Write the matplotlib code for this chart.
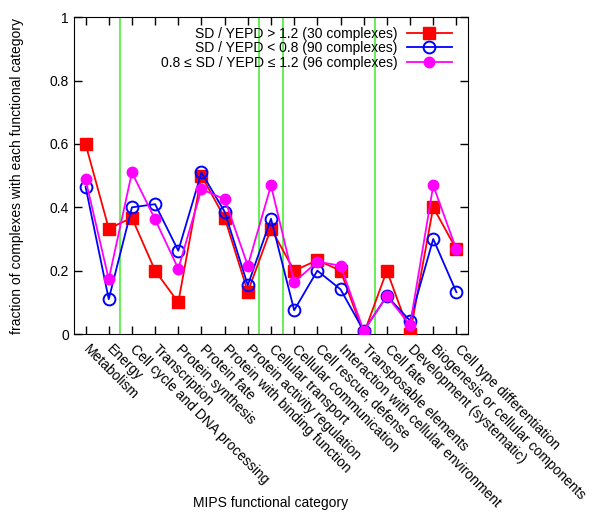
import numpy as np
import matplotlib
matplotlib.use("Agg")
import matplotlib.pyplot as plt
from matplotlib.transforms import ScaledTranslation

plt.rcParams['font.family'] = ['Liberation Sans', 'DejaVu Sans']

# MIPS categories along the x axis
categories = ["Metabolism", "Energy", "Cell cycle and DNA processing", "Transcription",
              "Protein synthesis", "Protein fate", "Protein with binding function",
              "Protein activity regulation", "Cellular transport", "Cellular communication",
              "Cell rescue, defense", "Interaction with cellular environment",
              "Transposable elements", "Cell fate", "Development (systematic)",
              "Biogenesis or cellular components", "Cell type differentiation"]

# fraction of complexes per category for each group
high = [0.6, 0.333, 0.367, 0.2, 0.1, 0.5, 0.367, 0.133, 0.333, 0.2,
        0.233, 0.2, 0.0, 0.2, 0.0, 0.4, 0.267]
low = [0.465, 0.11, 0.4, 0.41, 0.263, 0.51, 0.386, 0.154, 0.364, 0.075,
       0.2, 0.141, 0.01, 0.12, 0.042, 0.3, 0.132]
mid = [0.488, 0.173, 0.51, 0.362, 0.206, 0.457, 0.426, 0.216, 0.469, 0.164,
       0.228, 0.216, 0.01, 0.12, 0.028, 0.469, 0.267]

labels = ["SD / YEPD > 1.2 (30 complexes)",
          "SD / YEPD < 0.8 (90 complexes)",
          "0.8 \u2264 SD / YEPD \u2264 1.2 (96 complexes)"]

# green separators between category groups
separators = [2.5, 8.5, 9.5, 13.5]

x = np.arange(1, len(categories) + 1)

fig = plt.figure(figsize=(6, 5.25), dpi=100)
ax = fig.add_axes([0.1233, 0.3638, 0.6567, 0.6032])

for s in separators:
    ax.axvline(s, color='#66ee55', lw=1.4, zorder=1)

ax.plot(x, high, color='red', lw=1.3, marker='s', ms=8.5, mfc='red', mec='red',
        label=labels[0], zorder=3)
ax.plot(x, low, color='blue', lw=1.3, marker='o', ms=8.5, mfc='none', mec='blue',
        mew=1.4, label=labels[1], zorder=4)
ax.plot(x, mid, color='magenta', lw=1.3, marker='o', ms=7.5, mfc='magenta', mec='magenta',
        label=labels[2], zorder=5)

ax.set_xlim(0.5, 17.5)
ax.set_ylim(0, 1)
ax.set_xticks(x)
ax.set_xticklabels([])
# slanted category labels, drawn as text so they can be nudged a bit
offset = ScaledTranslation(5 / 100, -8 / 100, fig.dpi_scale_trans)
for xi, cat in zip(x, categories):
    ax.text(xi, 0, cat, rotation=-45, ha='left', va='top', rotation_mode='anchor',
            fontsize=10, transform=ax.get_xaxis_transform() + offset, clip_on=False)
ax.set_yticks([0, 0.2, 0.4, 0.6, 0.8, 1])
ax.set_yticklabels(["0", "0.2", "0.4", "0.6", "0.8", "1"], fontsize=10)
ax.tick_params(direction='in', top=True, right=True, length=6, width=1)

ax.set_xlabel("MIPS functional category", fontsize=10)
ax.set_ylabel("fraction of complexes with each functional category", fontsize=10)
ax.yaxis.set_label_coords(-0.127, 0.5)
ax.xaxis.set_label_coords(0.5, -0.512)

ax.legend(loc='upper right', bbox_to_anchor=(0.983, 1.001), frameon=False,
          markerfirst=False, handlelength=3.2, labelspacing=0.03,
          handletextpad=0.7, borderpad=0.2, fontsize=10)

fig.savefig("out.png", dpi=100)
